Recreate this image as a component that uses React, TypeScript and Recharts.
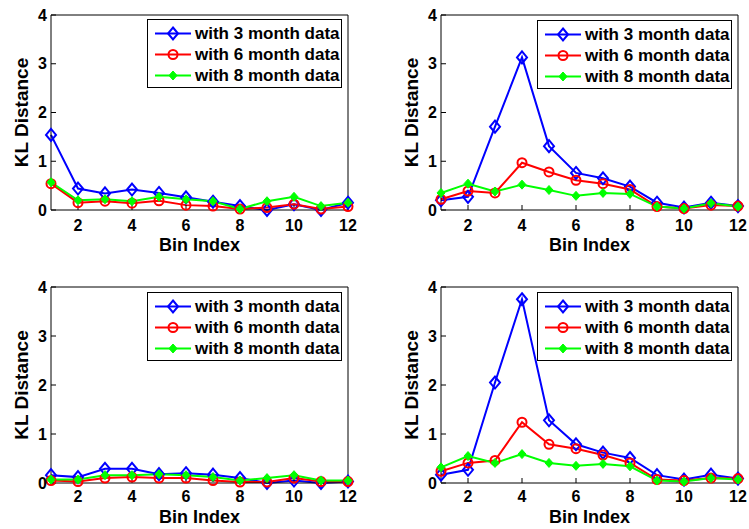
import React from "react";
import { LineChart, Line, XAxis, YAxis, Legend } from "recharts";

const BINS = [1, 2, 3, 4, 5, 6, 7, 8, 9, 10, 11, 12];
const X_TICKS = [2, 4, 6, 8, 10, 12];
const Y_TICKS = [0, 1, 2, 3, 4];
const NAMES = ["with 3 month data", "with 6 month data", "with 8 month data"];

// top-left panel
const TL_3M = [1.54, 0.44, 0.34, 0.42, 0.35, 0.26, 0.17, 0.08, 0.0, 0.12, 0.0, 0.15];
const TL_6M = [0.54, 0.15, 0.18, 0.14, 0.19, 0.1, 0.08, 0.02, 0.05, 0.12, 0.02, 0.07];
const TL_8M = [0.57, 0.2, 0.22, 0.18, 0.27, 0.22, 0.18, 0.02, 0.18, 0.27, 0.08, 0.15];

// top-right panel
const TR_3M = [0.2, 0.27, 1.71, 3.13, 1.31, 0.76, 0.65, 0.48, 0.15, 0.05, 0.15, 0.08];
const TR_6M = [0.22, 0.39, 0.35, 0.97, 0.78, 0.61, 0.54, 0.42, 0.07, 0.03, 0.1, 0.08];
const TR_8M = [0.35, 0.54, 0.38, 0.52, 0.41, 0.29, 0.35, 0.33, 0.07, 0.03, 0.14, 0.07];

// bottom-left panel
const BL_3M = [0.16, 0.12, 0.29, 0.29, 0.18, 0.2, 0.17, 0.1, 0.0, 0.05, 0.0, 0.03];
const BL_6M = [0.05, 0.03, 0.1, 0.12, 0.1, 0.1, 0.05, 0.02, 0.02, 0.1, 0.03, 0.03];
const BL_8M = [0.07, 0.07, 0.16, 0.16, 0.18, 0.16, 0.12, 0.05, 0.1, 0.16, 0.05, 0.05];

// bottom-right panel
const BR_3M = [0.17, 0.27, 2.05, 3.75, 1.28, 0.79, 0.62, 0.51, 0.16, 0.07, 0.17, 0.09];
const BR_6M = [0.24, 0.41, 0.46, 1.24, 0.79, 0.7, 0.57, 0.41, 0.07, 0.05, 0.1, 0.09];
const BR_8M = [0.32, 0.55, 0.41, 0.59, 0.41, 0.35, 0.39, 0.34, 0.05, 0.03, 0.1, 0.07];

const BLUE = "#0000FF";
const RED = "#FF0000";
const GREEN = "#00FF00";
const FONT = "'Liberation Sans', Arial, Helvetica, sans-serif";

function rows(a: number[], b: number[], c: number[]) {
  return BINS.map((bin, i) => ({ bin, m3: a[i], m6: b[i], m8: c[i] }));
}

function OpenDiamond({ cx, cy }: any) {
  if (cx == null || cy == null) return null;
  return (
    <polygon
      points={`${cx},${cy - 6} ${cx + 5},${cy} ${cx},${cy + 6} ${cx - 5},${cy}`}
      fill="none"
      stroke={BLUE}
      strokeWidth={2}
    />
  );
}

function SolidDiamond({ cx, cy }: any) {
  if (cx == null || cy == null) return null;
  return (
    <polygon
      points={`${cx},${cy - 4.5} ${cx + 4},${cy} ${cx},${cy + 4.5} ${cx - 4},${cy}`}
      fill={GREEN}
      stroke={GREEN}
      strokeWidth={1}
    />
  );
}

function OpenCircle({ cx, cy }: any) {
  if (cx == null || cy == null) return null;
  return <circle cx={cx} cy={cy} r={4.5} fill="none" stroke={RED} strokeWidth={2} />;
}

function LegendBox() {
  const markers = [
    <OpenDiamond cx={25} cy={10.5} />,
    <OpenCircle cx={25} cy={10.5} />,
    <SolidDiamond cx={25} cy={10.5} />,
  ];
  const colors = [BLUE, RED, GREEN];
  return (
    <div
      style={{
        border: "1px solid #000",
        background: "#fff",
        boxSizing: "border-box",
        height: 69,
        paddingTop: 3,
        fontFamily: FONT,
      }}
    >
      {NAMES.map((n, i) => (
        <div key={n} style={{ display: "flex", alignItems: "center", height: 21 }}>
          <svg width={47} height={21} style={{ flexShrink: 0 }}>
            <line x1={7} y1={10.5} x2={43} y2={10.5} stroke={colors[i]} strokeWidth={2} />
            {markers[i]}
          </svg>
          <span style={{ fontSize: 17, fontWeight: "bold", color: "#000", whiteSpace: "nowrap" }}>{n}</span>
        </div>
      ))}
    </div>
  );
}

interface PanelProps {
  left: number;
  top: number;
  width: number;
  height: number;
  data: any[];
  yAxisWidth: number;
  marginTop: number;
  marginRight: number;
  xAxisHeight: number;
  xTickMargin: number;
  xLabelDy: number;
  legendLeft: number;
  legendTop: number;
}

function Panel(p: PanelProps) {
  const tickStyle = { fill: "#000", fontSize: 16, fontWeight: "bold" };
  return (
    <div style={{ position: "absolute", left: p.left, top: p.top }}>
      <LineChart
        width={p.width}
        height={p.height}
        data={p.data}
        margin={{ top: p.marginTop, right: p.marginRight, bottom: 0, left: 0 }}
      >
        <XAxis
          xAxisId="b"
          type="number"
          dataKey="bin"
          domain={[1, 12]}
          ticks={X_TICKS}
          interval={0}
          height={p.xAxisHeight}
          stroke="#000"
          tickSize={-5}
          tickMargin={p.xTickMargin}
          tick={tickStyle}
          label={(lp: any) => {
            const vb = lp.viewBox;
            return (
              <text
                x={vb.x + vb.width / 2}
                y={vb.y + p.xLabelDy}
                textAnchor="middle"
                fontSize={18}
                fontWeight="bold"
                fill="#000"
              >
                Bin Index
              </text>
            );
          }}
        />
        <XAxis
          xAxisId="t"
          orientation="top"
          type="number"
          dataKey="bin"
          domain={[1, 12]}
          ticks={X_TICKS}
          height={1}
          stroke="#000"
          tickSize={-5}
          tick={false}
        />
        <YAxis
          yAxisId="l"
          domain={[0, 4]}
          ticks={Y_TICKS}
          interval={0}
          width={p.yAxisWidth}
          stroke="#000"
          tickSize={-5}
          tickMargin={9}
          tick={tickStyle}
          label={(lp: any) => {
            const vb = lp.viewBox;
            const x = vb.x + vb.width - 23;
            const y = vb.y + vb.height / 2;
            return (
              <text
                x={x}
                y={y}
                transform={`rotate(-90 ${x} ${y})`}
                textAnchor="middle"
                fontSize={19}
                fontWeight="bold"
                fill="#000"
              >
                KL Distance
              </text>
            );
          }}
        />
        <YAxis
          yAxisId="r"
          orientation="right"
          domain={[0, 4]}
          ticks={Y_TICKS}
          width={1}
          stroke="#000"
          tickSize={-5}
          tick={false}
        />
        <Legend
          layout="vertical"
          align="center"
          verticalAlign="middle"
          wrapperStyle={{ left: p.legendLeft, top: p.legendTop, width: 195 }}
          content={() => <LegendBox />}
        />
        <Line
          xAxisId="b"
          yAxisId="l"
          type="linear"
          dataKey="m3"
          name={NAMES[0]}
          stroke={BLUE}
          strokeWidth={2}
          dot={(dp: any) => <OpenDiamond key={`d3-${dp.index}`} {...dp} />}
          isAnimationActive={false}
        />
        <Line
          xAxisId="b"
          yAxisId="l"
          type="linear"
          dataKey="m6"
          name={NAMES[1]}
          stroke={RED}
          strokeWidth={2}
          dot={(dp: any) => <OpenCircle key={`d6-${dp.index}`} {...dp} />}
          isAnimationActive={false}
        />
        <Line
          xAxisId="b"
          yAxisId="l"
          type="linear"
          dataKey="m8"
          name={NAMES[2]}
          stroke={GREEN}
          strokeWidth={2}
          dot={(dp: any) => <SolidDiamond key={`d8-${dp.index}`} {...dp} />}
          isAnimationActive={false}
        />
      </LineChart>
    </div>
  );
}

export default function App() {
  return (
    <div
      style={{
        position: "absolute",
        left: 0,
        top: 0,
        width: 749,
        height: 529,
        background: "#fff",
        fontFamily: FONT,
      }}
    >
      <Panel
        left={0}
        top={0}
        width={375}
        height={264}
        data={rows(TL_3M, TL_6M, TL_8M)}
        yAxisWidth={51}
        marginTop={14}
        marginRight={26}
        xAxisHeight={54}
        xTickMargin={15}
        xLabelDy={41}
        legendLeft={147}
        legendTop={19}
      />
      <Panel
        left={375}
        top={0}
        width={374}
        height={264}
        data={rows(TR_3M, TR_6M, TR_8M)}
        yAxisWidth={66}
        marginTop={14}
        marginRight={10}
        xAxisHeight={54}
        xTickMargin={15}
        xLabelDy={41}
        legendLeft={162}
        legendTop={20}
      />
      <Panel
        left={0}
        top={264}
        width={375}
        height={265}
        data={rows(BL_3M, BL_6M, BL_8M)}
        yAxisWidth={51}
        marginTop={22}
        marginRight={26}
        xAxisHeight={46}
        xTickMargin={13}
        xLabelDy={40}
        legendLeft={147}
        legendTop={28}
      />
      <Panel
        left={375}
        top={264}
        width={374}
        height={265}
        data={rows(BR_3M, BR_6M, BR_8M)}
        yAxisWidth={66}
        marginTop={22}
        marginRight={10}
        xAxisHeight={46}
        xTickMargin={13}
        xLabelDy={40}
        legendLeft={162}
        legendTop={28}
      />
    </div>
  );
}
